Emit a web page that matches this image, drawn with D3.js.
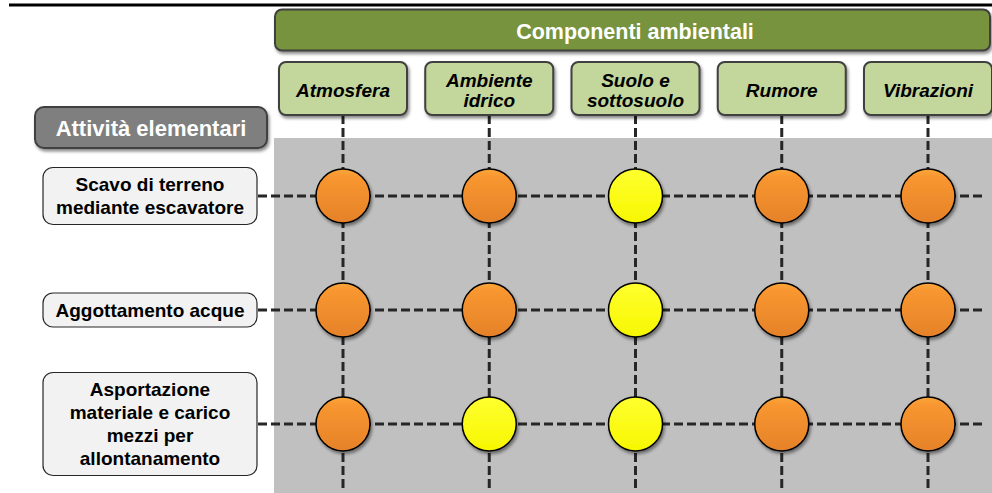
<!DOCTYPE html>
<html><head><meta charset="utf-8">
<script src="https://cdn.jsdelivr.net/npm/d3@7"></script>
<style>body{margin:0;background:#fff}svg{display:block}</style>
</head><body>
<script>
const headerTitle = "Componenti ambientali";
const rowTitle = "Attività elementari";
const components = [["Atmosfera"], ["Ambiente", "idrico"], ["Suolo e", "sottosuolo"], ["Rumore"], ["Vibrazioni"]];
const activities = [["Scavo di terreno", "mediante escavatore"], ["Aggottamento acque"], ["Asportazione", "materiale e carico", "mezzi per", "allontanamento"]];
// impact level per activity (rows) x component (cols): 2 = orange, 1 = yellow
const impactScavo = [2, 2, 1, 2, 2];
const impactAggottamento = [2, 2, 1, 2, 2];
const impactAsportazione = [2, 1, 1, 2, 2];
const impacts = [impactScavo, impactAggottamento, impactAsportazione];

const W = 992, H = 493;
const svg = d3.select("body").append("svg").attr("width", W).attr("height", H)
  .style("font-family", "Liberation Sans, Arial, sans-serif");
const defs = svg.append("defs");
const f = defs.append("filter").attr("id", "sh").attr("x", "-20%").attr("y", "-20%").attr("width", "150%").attr("height", "160%");
f.append("feDropShadow").attr("dx", 1.5).attr("dy", 2.5).attr("stdDeviation", 1.8).attr("flood-color", "#000").attr("flood-opacity", 0.45);
const og = defs.append("linearGradient").attr("id", "og").attr("x1", 0).attr("y1", 0).attr("x2", 0).attr("y2", 1);
og.append("stop").attr("offset", "0%").attr("stop-color", "#fba63a");
og.append("stop").attr("offset", "15%").attr("stop-color", "#f89630");
og.append("stop").attr("offset", "100%").attr("stop-color", "#e5822a");
const yg = defs.append("linearGradient").attr("id", "yg").attr("x1", 0).attr("y1", 0).attr("x2", 0).attr("y2", 1);
yg.append("stop").attr("offset", "0%").attr("stop-color", "#ffff30");
yg.append("stop").attr("offset", "100%").attr("stop-color", "#f7f700");
const fillFor = v => v === 2 ? "url(#og)" : "url(#yg)";

const x = d3.scalePoint().domain(d3.range(components.length)).range([343, 928]);
const y = d3.scalePoint().domain(d3.range(activities.length)).range([196, 424]);

// top rule
svg.append("line").attr("x1", 9).attr("x2", W).attr("y1", 5).attr("y2", 5).attr("stroke", "#000").attr("stroke-width", 3);

// gray area
svg.append("rect").attr("x", 274).attr("y", 138).attr("width", W - 274).attr("height", 355).attr("fill", "#c0c0c0");

// header
svg.append("rect").attr("x", 275).attr("y", 9.5).attr("width", 715).attr("height", 41).attr("rx", 7)
  .attr("fill", "#77933c").attr("stroke", "#3f3f3f").attr("stroke-width", 2).attr("filter", "url(#sh)");
svg.append("text").attr("x", 635).attr("y", 39).attr("text-anchor", "middle").attr("fill", "#fff")
  .attr("font-weight", "bold").attr("font-size", 21.5).text(headerTitle);

// dashed grid lines
const dash = "9,4";
svg.append("g").selectAll("line").data(components).join("line")
  .attr("x1", (d, i) => x(i)).attr("x2", (d, i) => x(i)).attr("y1", 115).attr("y2", 488)
  .attr("stroke", "#262626").attr("stroke-width", 3).attr("stroke-dasharray", dash);
svg.append("g").selectAll("line").data(activities).join("line")
  .attr("x1", 258).attr("x2", 983).attr("y1", (d, i) => y(i)).attr("y2", (d, i) => y(i))
  .attr("stroke", "#262626").attr("stroke-width", 3).attr("stroke-dasharray", dash);

// component boxes
const cg = svg.append("g").selectAll("g").data(components).join("g");
cg.append("rect").attr("x", (d, i) => x(i) - 64).attr("y", 62).attr("width", 128).attr("height", 53).attr("rx", 7)
  .attr("fill", "#c3d69b").attr("stroke", "#3f3f3f").attr("stroke-width", 2).attr("filter", "url(#sh)");
cg.each(function(d, i) {
  const t = d3.select(this).append("text").attr("text-anchor", "middle").attr("font-weight", "bold")
    .attr("font-style", "italic").attr("font-size", 19).attr("fill", "#000");
  const lh = 20, cy = 90;
  d.forEach((line, k) => t.append("tspan").attr("x", x(i)).attr("y", cy + 6.8 + (k - (d.length - 1) / 2) * lh).text(line));
});

// Attività elementari box
svg.append("rect").attr("x", 35).attr("y", 107).attr("width", 232).attr("height", 41).attr("rx", 9)
  .attr("fill", "#7f7f7f").attr("stroke", "#3f3f3f").attr("stroke-width", 2).attr("filter", "url(#sh)");
svg.append("text").attr("x", 151).attr("y", 136).attr("text-anchor", "middle").attr("fill", "#fff")
  .attr("font-weight", "bold").attr("font-size", 22).text(rowTitle);

// activity boxes
const lineH = 23;
const ag = svg.append("g").selectAll("g").data(activities).join("g");
ag.append("rect").attr("x", 43).attr("width", 214)
  .attr("y", (d, i) => y(i) - (d.length * lineH + 11) / 2).attr("height", d => d.length * lineH + 11).attr("rx", 10)
  .attr("fill", "#f2f2f2").attr("stroke", "#262626").attr("stroke-width", 1.2);
ag.each(function(d, i) {
  const t = d3.select(this).append("text").attr("text-anchor", "middle").attr("font-weight", "bold")
    .attr("font-size", 19).attr("fill", "#000");
  d.forEach((line, k) => t.append("tspan").attr("x", 150).attr("y", y(i) + 6.8 + (k - (d.length - 1) / 2) * lineH).text(line));
});

// circles
const cells = [];
impacts.forEach((row, r) => row.forEach((v, c) => cells.push({r, c, v})));
svg.append("g").selectAll("circle").data(cells).join("circle")
  .attr("cx", d => x(d.c)).attr("cy", d => y(d.r)).attr("r", 27)
  .attr("fill", d => fillFor(d.v)).attr("stroke", "#000").attr("stroke-width", 1.5).attr("filter", "url(#sh)");
</script>
</body></html>
